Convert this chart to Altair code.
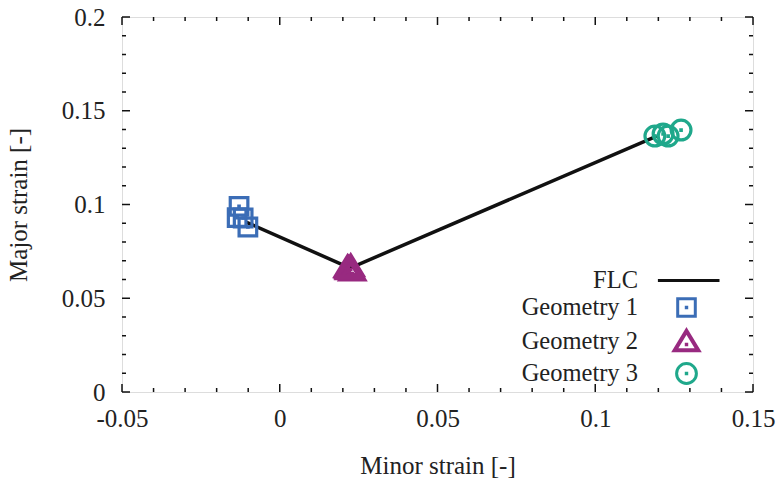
import altair as alt
import pandas as pd

# ---- data ----
flc_minor = [-0.0105, 0.0223, 0.1195]
flc_major = [0.0905, 0.0661, 0.1365]

g1_minor = [-0.0129, -0.0116, -0.0101, -0.0135]
g1_major = [0.0990, 0.0928, 0.0880, 0.0930]

g2_minor = [0.0215, 0.0225, 0.0230, 0.0220, 0.0218]
g2_major = [0.0665, 0.0670, 0.0648, 0.0655, 0.0660]

g3_minor = [0.1189, 0.1215, 0.1231, 0.1272]
g3_major = [0.1365, 0.1376, 0.1365, 0.1397]

series_names = ["FLC", "Geometry 1", "Geometry 2", "Geometry 3"]
series_colors = ["#111111", "#3b6db6", "#982a80", "#1fa88b"]

x_major = [-0.05, 0.0, 0.05, 0.10, 0.15]
x_minor = [-0.04, -0.03, -0.02, -0.01, 0.01, 0.02, 0.03, 0.04,
           0.06, 0.07, 0.08, 0.09, 0.11, 0.12, 0.13, 0.14]
y_major = [0.0, 0.05, 0.10, 0.15, 0.20]
y_minor = [0.01, 0.02, 0.03, 0.04, 0.06, 0.07, 0.08, 0.09,
           0.11, 0.12, 0.13, 0.14, 0.16, 0.17, 0.18, 0.19]

# ---- tables ----
line_df = pd.DataFrame({"x": flc_minor, "y": flc_major, "series": "FLC"})
pts_df = pd.concat([
    pd.DataFrame({"x": g1_minor, "y": g1_major, "series": "Geometry 1"}),
    pd.DataFrame({"x": g2_minor, "y": g2_major, "series": "Geometry 2"}),
    pd.DataFrame({"x": g3_minor, "y": g3_major, "series": "Geometry 3"}),
], ignore_index=True)

W, H = 631, 375
FONT = "Liberation Serif"
FS = 25
TXT = "#222222"

xscale = alt.Scale(domain=[-0.05, 0.15], nice=False, zero=False)
yscale = alt.Scale(domain=[0.0, 0.2], nice=False, zero=False)

shape_paths = [
    "M-2.6,0H3.0",
    "M-0.8,-0.8H0.8V0.8H-0.8Z M-0.02,-0.02H0.02V0.02H-0.02Z",
    "M0,-1.05L1.15,0.85H-1.15Z M0,-0.86L0.98,0.75H-0.98Z M-0.02,0.26H0.02V0.30H-0.02Z",
    "M0.9,0A0.9,0.9 0 1,1 -0.9,0A0.9,0.9 0 1,1 0.9,0Z M-0.02,-0.02H0.02V0.02H-0.02Z",
]

LABEL_EXPR = "datum.value == 0 ? '0' : (datum.value < 0 ? '-' + format(-datum.value, '.2~f') : format(datum.value, '.2~f'))"

color_enc = alt.Color(
    "series:N",
    title=None,
    scale=alt.Scale(domain=series_names, range=series_colors),
    legend=alt.Legend(
        orient="none", legendX=552, legendY=251,
        labelAlign="right", labelOffset={"expr": "-61"}, labelBaseline="middle",
        labelFont=FONT, labelFontSize=24.5, labelColor=TXT,
        symbolSize=484, symbolStrokeWidth=3, symbolFillColor="transparent",
        rowPadding=0, padding=0,
    ),
)
shape_enc = alt.Shape(
    "series:N",
    title=None,
    scale=alt.Scale(domain=series_names, range=shape_paths),
)

x_enc = alt.X("x:Q", scale=xscale, title="Minor strain [-]",
              axis=alt.Axis(values=x_major, ticks=False, tickSize=0, domain=False, grid=False,
                            labelFont=FONT, labelFontSize=FS, labelColor=TXT, labelPadding=14,
                            titleFont=FONT, titleFontSize=FS, titleColor=TXT, titleFontWeight="normal",
                            titlePadding=22, labelFlush=False, labelOverlap=False,
                            labelExpr=LABEL_EXPR))
y_enc = alt.Y("y:Q", scale=yscale, title="Major strain [-]",
              axis=alt.Axis(values=y_major, ticks=False, tickSize=0, domain=False, grid=False,
                            labelFont=FONT, labelFontSize=FS, labelColor=TXT, labelPadding=17,
                            titleFont=FONT, titleFontSize=FS, titleColor=TXT, titleFontWeight="normal",
                            titlePadding=30, labelFlush=False, labelOverlap=False,
                            labelExpr=LABEL_EXPR))

line = alt.Chart(line_df).mark_line(strokeWidth=3.5, color="#111111").encode(
    x=x_enc, y=y_enc, color=color_enc,
)
points = alt.Chart(pts_df).mark_point(filled=False, size=484, strokeWidth=3.2, opacity=1).encode(
    x="x:Q", y="y:Q", color="series:N", shape=shape_enc,
)

# inward frame ticks
def tick_layer(vals, axis, length):
    df = pd.DataFrame({"v": vals})
    base = alt.Chart(df).mark_rule(color="#111111", strokeWidth=1.5)
    if axis == "x":
        bottom = base.encode(x=alt.X("v:Q", scale=xscale), y=alt.value(H), y2=alt.value(H - length))
        top = base.encode(x=alt.X("v:Q", scale=xscale), y=alt.value(0), y2=alt.value(length))
        return [bottom, top]
    left = base.encode(y=alt.Y("v:Q", scale=yscale), x=alt.value(0), x2=alt.value(length))
    right = base.encode(y=alt.Y("v:Q", scale=yscale), x=alt.value(W), x2=alt.value(W - length))
    return [left, right]

ticks = (tick_layer(x_major, "x", 8) + tick_layer(x_minor, "x", 4)
         + tick_layer(y_major, "y", 8) + tick_layer(y_minor, "y", 4))

chart = alt.layer(*ticks, line, points).properties(
    width=W, height=H,
    padding={"left": 122, "top": 17, "right": 28, "bottom": 87},
    autosize=alt.AutoSizeParams(type="none"),
).configure_view(
    stroke="#111111", strokeWidth=2,
).configure(background="white")

chart.save("out.html", embed_options={"renderer": "svg", "actions": False})
